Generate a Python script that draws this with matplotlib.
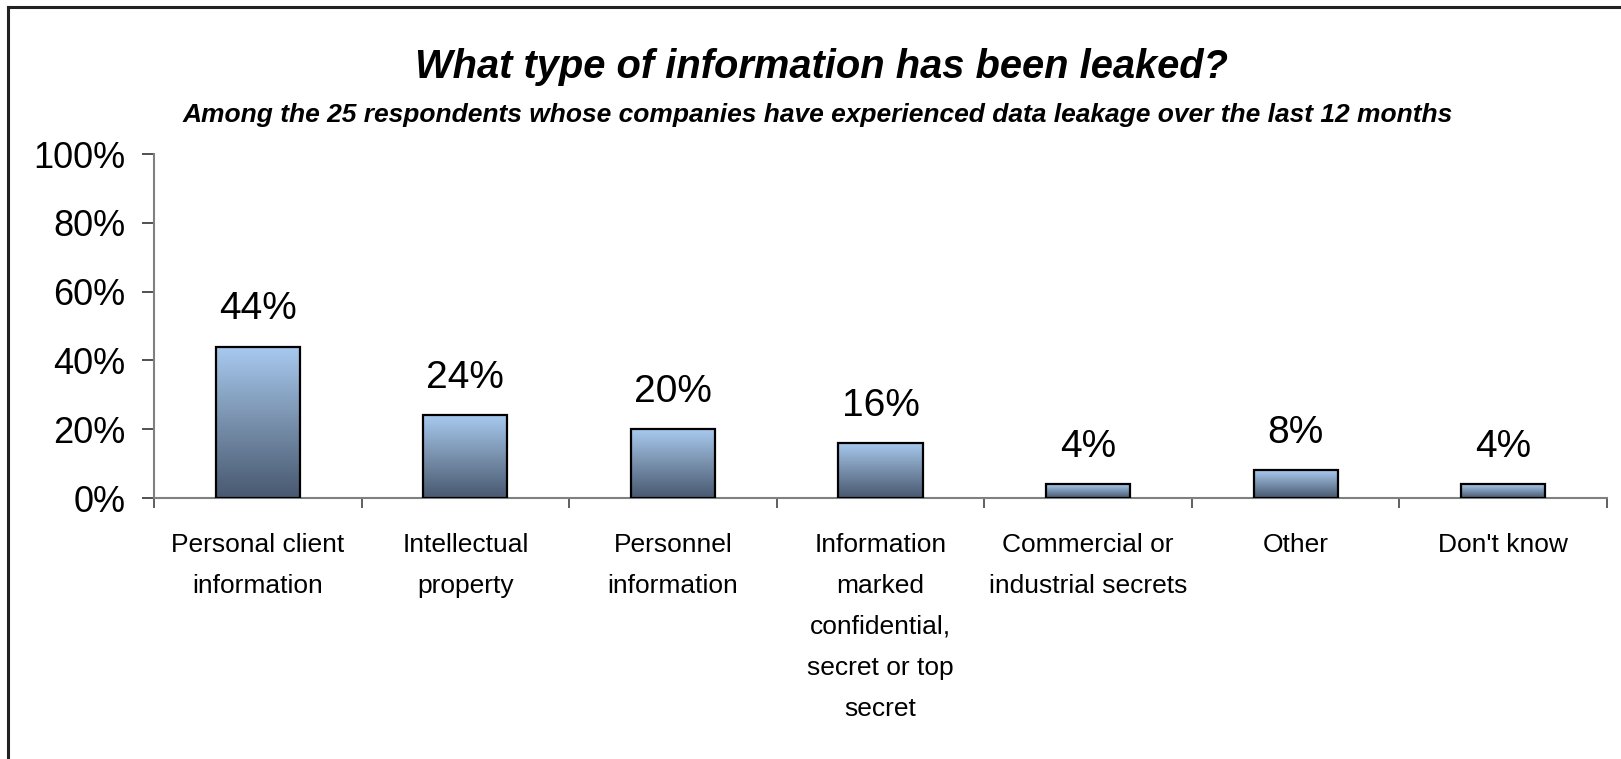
import matplotlib
matplotlib.use("Agg")
import matplotlib.pyplot as plt
import numpy as np
from matplotlib.colors import LinearSegmentedColormap
from matplotlib.lines import Line2D
from matplotlib import font_manager

categories = ["Personal client\ninformation", "Intellectual\nproperty", "Personnel\ninformation",
              "Information\nmarked\nconfidential,\nsecret or top\nsecret",
              "Commercial or\nindustrial secrets", "Other", "Don't know"]
values = [44, 24, 20, 16, 4, 8, 4]
value_labels = ["44%", "24%", "20%", "16%", "4%", "8%", "4%"]
yticks = [0, 20, 40, 60, 80, 100]
ytick_labels = ["0%", "20%", "40%", "60%", "80%", "100%"]
title = "What type of information has been leaked?"
subtitle = "Among the 25 respondents whose companies have experienced data leakage over the last 12 months"

names = {f.name for f in font_manager.fontManager.ttflist}
narrow = "Liberation Sans Narrow" if "Liberation Sans Narrow" in names else "Liberation Sans"
regular = "Liberation Sans"

W, H = 1621, 759
fig = plt.figure(figsize=(W / 100, H / 100), dpi=100)
fig.patch.set_facecolor("white")

# figure border (left and top visible)
fig.add_artist(Line2D([8 / W, 8 / W], [0, 1 - 7 / H], color="#222222", lw=2.2))
fig.add_artist(Line2D([8 / W, 1], [1 - 7 / H, 1 - 7 / H], color="#222222", lw=2.2))

ax = fig.add_axes([154 / W, 1 - 498 / H, (1607 - 154) / W, (498 - 154) / H])
n = len(categories)
x = np.arange(n)
width = 0.405

cmap = LinearSegmentedColormap.from_list("g", ["#485870", "#7890ac", "#a8caf0"])
grad = np.linspace(0, 1, 256).reshape(-1, 1)

bars = ax.bar(x, values, width=width, facecolor="none", edgecolor="black", linewidth=1.6, zorder=3)
for b in bars:
    x0, w, h = b.get_x(), b.get_width(), b.get_height()
    im = ax.imshow(grad, extent=[x0, x0 + w, 0, h], origin="lower", aspect="auto",
                   cmap=cmap, zorder=2)
    im.set_clip_path(b)

for xi, v, lab in zip(x, values, value_labels):
    ax.annotate(lab, (xi, v), xytext=(0, 14), textcoords="offset points",
                ha="center", va="bottom", fontsize=28, family=regular, color="black")

ax.set_xlim(-0.5, n - 0.5)
ax.set_ylim(0, 100)

for s in ["top", "right"]:
    ax.spines[s].set_visible(False)
for s in ["left", "bottom"]:
    ax.spines[s].set_color("#808080")
    ax.spines[s].set_linewidth(1.5)

ax.set_yticks(yticks)
ax.set_yticklabels(ytick_labels, family=narrow, fontsize=26)
ax.tick_params(axis="y", length=8.5, width=1.2, color="#333333", pad=12)

ax.set_xticks(x)
ax.set_xticklabels(categories, family=narrow, fontsize=19, linespacing=1.9, va="top")
ax.set_xticks(np.arange(n + 1) - 0.5, minor=True)
ax.tick_params(axis="x", which="major", length=0, pad=25)
ax.tick_params(axis="x", which="minor", length=7, width=1.2, color="#444444")

fig.text(822 / W, 1 - 67 / H, title, ha="center", va="center", fontsize=28.7,
         family=narrow, style="italic", weight="bold")
fig.text(818 / W, 1 - 115 / H, subtitle, ha="center", va="center", fontsize=19,
         family=narrow, style="italic", weight="bold")

fig.savefig("out.png", dpi=100)
